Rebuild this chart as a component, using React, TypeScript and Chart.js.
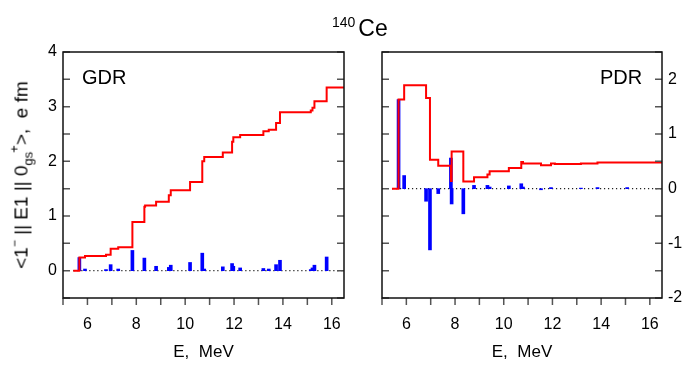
import React, { useEffect, useRef } from 'react';
import { Chart, registerables } from 'chart.js';

Chart.register(...registerables);

const FONT = "'Liberation Sans', Arial, Helvetica, sans-serif";

// ---- GDR panel data (E in MeV, reduced matrix element in e fm) ----
const gdrBarE = [5.67, 5.9, 6.76, 6.95, 7.26, 7.84, 8.33, 8.81, 9.33, 9.41, 10.2, 10.7, 10.78, 11.54, 11.92, 11.97, 12.25, 13.2, 13.42, 13.72, 13.88, 15.14, 15.21, 15.29, 15.79];
const gdrBarB = [0.24, 0.03, 0.02, 0.11, 0.03, 0.37, 0.23, 0.08, 0.06, 0.1, 0.15, 0.32, 0.03, 0.07, 0.13, 0.08, 0.05, 0.04, 0.03, 0.11, 0.19, 0.02, 0.05, 0.1, 0.25];
const gdrStepE = [5.42, 5.67, 5.9, 6.76, 6.95, 7.26, 7.84, 8.33, 8.36, 8.81, 9.33, 9.41, 10.2, 10.7, 10.78, 11.54, 11.92, 11.97, 12.25, 13.2, 13.42, 13.72, 13.88, 15.14, 15.21, 15.29, 15.79, 16.5];
const gdrStepB = [0, 0.24, 0.27, 0.29, 0.4, 0.43, 0.89, 1.17, 1.19, 1.26, 1.38, 1.47, 1.62, 2.0, 2.08, 2.16, 2.36, 2.44, 2.48, 2.55, 2.58, 2.7, 2.9, 2.93, 2.98, 3.1, 3.35, 3.35];

// ---- PDR panel data ----
const pdrBarE = [5.68, 5.91, 6.81, 6.97, 7.31, 7.83, 7.86, 8.34, 8.78, 9.33, 9.42, 10.21, 10.72, 10.79, 11.53, 11.94, 13.17, 13.85, 15.07];
const pdrBarB = [1.63, 0.24, -0.23, -1.12, -0.09, 0.56, -0.28, -0.46, 0.06, 0.06, 0.03, 0.05, 0.09, 0.03, -0.02, 0.02, 0.01, 0.02, 0.02];
const pdrStepE = [5.41, 5.68, 5.91, 6.81, 6.97, 7.31, 7.83, 7.86, 8.34, 8.78, 9.33, 9.42, 10.21, 10.72, 10.79, 11.53, 11.94, 12.1, 13.17, 13.85, 15.07, 16.5];
const pdrStepB = [0, 1.63, 1.89, 1.66, 0.53, 0.42, 0.14, 0.68, 0.13, 0.21, 0.26, 0.32, 0.38, 0.49, 0.46, 0.43, 0.46, 0.45, 0.46, 0.48, 0.48, 0.49];

// zero reference (dotted) extents
const gdrZeroE = [5.42, 16.5];
const pdrZeroE = [5.41, 16.5];

// ---- axes ----
const xMin = 5;
const xMax = 16.5;
const xTickLabels = [6, 8, 10, 12, 14, 16];
const gdrYMin = -0.5;
const gdrYMax = 4;
const gdrYLabels = [0, 1, 2, 3, 4];
const pdrYMin = -2;
const pdrYMax = 2.5;
const pdrYLabels = [-2, -1, 0, 1, 2];

const framePlugin = {
  id: 'frame',
  afterDatasetsDraw(chart: any) {
    const { ctx, chartArea: a, scales } = chart;
    ctx.save();
    ctx.strokeStyle = '#555';
    ctx.lineWidth = 1.5;
    ctx.beginPath();
    const y = scales.y;
    y.ticks.forEach((t: any) => {
      const py = y.getPixelForValue(t.value);
      ctx.moveTo(a.left, py);
      ctx.lineTo(a.left + 7, py);
      ctx.moveTo(a.right - 7, py);
      ctx.lineTo(a.right, py);
    });
    const x = scales.x;
    x.ticks.forEach((t: any) => {
      if (!Number.isInteger(t.value)) return;
      const px = x.getPixelForValue(t.value);
      ctx.moveTo(px, a.bottom);
      ctx.lineTo(px, a.bottom + 7);
    });
    ctx.stroke();
    ctx.strokeStyle = '#111';
    ctx.lineWidth = 1.5;
    ctx.strokeRect(a.left, a.top, a.right - a.left, a.bottom - a.top);
    ctx.restore();
  },
};

function makeConfig(p: {
  barE: number[]; barB: number[]; stepE: number[]; stepB: number[]; zeroE: number[];
  yMin: number; yMax: number; yLabels: number[]; yPos: string; yWidth: number;
  padLeft: number; padRight: number;
}): any {
  return {
    type: 'bar',
    data: {
      datasets: [
        {
          type: 'line',
          data: p.stepE.map((e, i) => ({ x: e, y: p.stepB[i] })),
          borderColor: '#ff0000',
          borderWidth: 2,
          stepped: 'before',
          pointRadius: 0,
          fill: false,
          order: 0,
        },
        {
          type: 'bar',
          data: p.barE.map((e, i) => ({ x: e, y: p.barB[i] })),
          backgroundColor: '#0000ff',
          borderWidth: 0,
          barThickness: 3,
          order: 1,
        },
        {
          type: 'line',
          data: p.zeroE.map((e) => ({ x: e, y: 0 })),
          borderColor: '#222',
          borderWidth: 1.2,
          borderDash: [1.2, 2.8],
          pointRadius: 0,
          fill: false,
          order: 2,
        },
      ],
    },
    options: {
      responsive: false,
      animation: false,
      devicePixelRatio: 1,
      layout: { padding: { top: 52, left: p.padLeft, right: p.padRight, bottom: 0 } },
      plugins: { legend: { display: false }, tooltip: { enabled: false } },
      scales: {
        x: {
          type: 'linear',
          min: xMin,
          max: xMax,
          offset: false,
          grid: { display: false, drawTicks: false },
          border: { display: false },
          ticks: {
            stepSize: 1,
            includeBounds: false,
            autoSkip: false,
            maxRotation: 0,
            padding: 17,
            color: '#000',
            font: { family: FONT, size: 16 },
            callback: (v: any) => (xTickLabels.includes(v) ? String(v) : ''),
          },
          title: {
            display: true,
            text: 'E,  MeV',
            color: '#000',
            font: { family: FONT, size: 17 },
            padding: { top: 0, bottom: 4 },
          },
          afterFit: (s: any) => { s.height = 69; },
        },
        y: {
          type: 'linear',
          position: p.yPos,
          min: p.yMin,
          max: p.yMax,
          grid: { display: false, drawTicks: false },
          border: { display: false },
          ticks: {
            stepSize: 0.5,
            autoSkip: false,
            padding: 6,
            color: '#000',
            font: { family: FONT, size: 16 },
            callback: (v: any) => (p.yLabels.includes(v) ? String(v) : ''),
          },
          afterFit: (s: any) => { s.width = p.yWidth; },
        },
      },
    },
    plugins: [framePlugin],
  };
}

export default function App() {
  const leftRef = useRef<HTMLCanvasElement>(null);
  const rightRef = useRef<HTMLCanvasElement>(null);

  useEffect(() => {
    const c1 = new Chart(leftRef.current as HTMLCanvasElement, makeConfig({
      barE: gdrBarE, barB: gdrBarB, stepE: gdrStepE, stepB: gdrStepB, zeroE: gdrZeroE,
      yMin: gdrYMin, yMax: gdrYMax, yLabels: gdrYLabels, yPos: 'left', yWidth: 63,
      padLeft: 0, padRight: 21,
    }));
    const c2 = new Chart(rightRef.current as HTMLCanvasElement, makeConfig({
      barE: pdrBarE, barB: pdrBarB, stepE: pdrStepE, stepB: pdrStepB, zeroE: pdrZeroE,
      yMin: pdrYMin, yMax: pdrYMax, yLabels: pdrYLabels, yPos: 'right', yWidth: 31,
      padLeft: 15, padRight: 0,
    }));
    return () => { c1.destroy(); c2.destroy(); };
  }, []);

  const text: React.CSSProperties = { position: 'absolute', fontFamily: FONT, color: '#000', whiteSpace: 'nowrap', lineHeight: 1 };

  return (
    <div style={{ position: 'absolute', left: 0, top: 0, width: 693, height: 367, background: '#fff', overflow: 'hidden' }}>
      <canvas ref={leftRef} width={365} height={367} style={{ position: 'absolute', left: 0, top: 0, width: 365, height: 367 }} />
      <canvas ref={rightRef} width={328} height={367} style={{ position: 'absolute', left: 365, top: 0, width: 328, height: 367 }} />
      <div style={{ ...text, left: 332, top: 17, fontSize: 23 }}>
        <span style={{ fontSize: 14, position: 'relative', top: -9, marginRight: 3 }}>140</span>Ce
      </div>
      <div style={{ ...text, left: 82, top: 67, fontSize: 20 }}>GDR</div>
      <div style={{ ...text, left: 600, top: 67, fontSize: 20 }}>PDR</div>
      <div style={{ ...text, left: 21, top: 175, fontSize: 19, transform: 'translate(-50%, -50%) rotate(-90deg)' }}>
        {'<1'}<span style={{ fontSize: 12, position: 'relative', top: -9 }}>−</span>
        {' || E1 || 0'}
        <span style={{ fontSize: 13, position: 'relative', top: 5 }}>gs</span>
        <span style={{ fontSize: 13, position: 'relative', top: -9, marginLeft: -1 }}>+</span>
        {'>,\u00a0\u00a0e fm'}
      </div>
    </div>
  );
}
